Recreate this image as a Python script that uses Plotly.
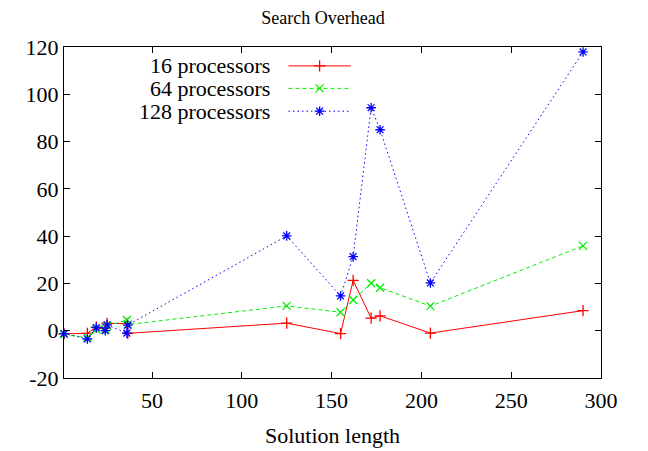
import plotly.graph_objects as go

# ---- data ----
solution_length = [1, 14, 19, 24, 25, 36, 36.5, 125, 155, 162, 172, 177, 205, 290]
p16 = [-1.3, -1.1, 1.5, 1.0, 3.1, 3.0, -1.1, 3.2, -1.2, 21.3, 5.3, 6.3, -1.0, 8.5]
p64 = [-1.5, -3.0, 0.5, 0.5, 2.0, 4.5, 2.6, 10.5, 7.8, 13.0, 20.1, 18.2, 10.4, 35.9]
p128 = [-1.2, -3.5, 1.3, 0.0, 2.5, -1.0, 2.4, 40.1, 14.7, 31.3, 94.3, 85.0, 20.2, 117.9]
series_names = ["16 processors", "64 processors", "128 processors"]
y_ticks = [-20, 0, 20, 40, 60, 80, 100, 120]
x_ticks = [50, 100, 150, 200, 250, 300]

colors = ["#ff0000", "#00f000", "#0000ff"]
dashes = ["solid", "4px,3px", "1.5px,3px"]
symbols = ["cross-thin-open", "x-thin-open", "asterisk-open"]
FONT = "Liberation Serif, Times New Roman, serif"

fig = go.Figure()
for name, ys, c, d, s in zip(series_names, [p16, p64, p128], colors, dashes, symbols):
    fig.add_trace(go.Scatter(
        x=solution_length, y=ys, mode="lines+markers", name=name,
        line=dict(color=c, width=1, dash=d),
        marker=dict(symbol=s, size=8, color=c, line=dict(color=c, width=1.3)),
        showlegend=False, cliponaxis=False,
    ))

# custom gnuplot-style legend (text left, sample right)
leg_rows = [0.943, 0.875, 0.806]
for name, c, d, s, yr in zip(series_names, colors, dashes, symbols, leg_rows):
    fig.add_trace(go.Scatter(
        x=[0.418, 0.534], y=[yr, yr], mode="lines", xaxis="x2", yaxis="y2",
        line=dict(color=c, width=1, dash=d), showlegend=False, hoverinfo="skip"))
    fig.add_trace(go.Scatter(
        x=[0.476], y=[yr], mode="markers", xaxis="x2", yaxis="y2",
        marker=dict(symbol=s, size=8, color=c, line=dict(color=c, width=1.3)),
        showlegend=False, hoverinfo="skip"))
    fig.add_annotation(text=name, xref="paper", yref="paper", x=0.388, y=yr,
                       xanchor="right", yanchor="middle", showarrow=False,
                       font=dict(family=FONT, size=22, color="black"))

axis_common = dict(showline=True, linecolor="black", linewidth=1.2, mirror="allticks",
                   ticks="inside", ticklen=6, tickcolor="black", showgrid=False,
                   zeroline=False, tickfont=dict(family=FONT, size=22, color="black"))

fig.update_layout(
    width=648, height=451,
    margin=dict(l=56, r=55, t=39, b=81),
    paper_bgcolor="white", plot_bgcolor="white",
    title=dict(text="Search Overhead", x=0.486, xanchor="center", y=0.978, yanchor="middle",
               font=dict(family=FONT, size=18, color="black")),
    xaxis=dict(range=[1, 300], tickvals=x_ticks, ticktext=[str(v) for v in x_ticks],
               ticklabelstandoff=2,
               title=dict(text="Solution length", font=dict(family=FONT, size=22, color="black"),
                          standoff=16),
               **axis_common),
    yaxis=dict(range=[-20, 120], tickvals=y_ticks, ticktext=[str(v) for v in y_ticks],
               **axis_common),
    xaxis2=dict(overlaying="x", range=[0, 1], visible=False, fixedrange=True),
    yaxis2=dict(overlaying="y", range=[0, 1], visible=False, fixedrange=True),
    showlegend=False,
)

fig.write_html("out.html")
